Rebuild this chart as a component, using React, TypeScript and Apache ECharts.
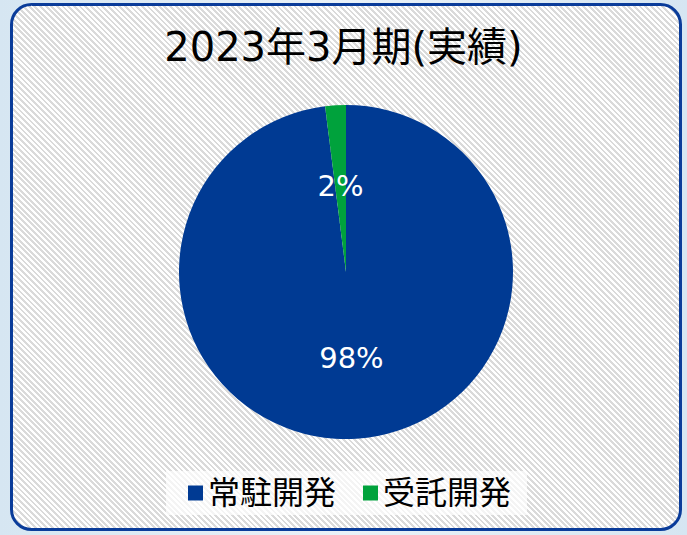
import React, { useEffect, useRef } from "react";
import * as echarts from "echarts";

const categories = ["常駐開発", "受託開発"];
const shares = [98, 2];
const colors = ["#003A93", "#00A23C"];
const titleText = "2023年3月期(実績)";

const FONT = "'DejaVu Sans', 'Noto Sans CJK JP', sans-serif";

export default function App() {
  const ref = useRef<HTMLDivElement>(null);
  useEffect(() => {
    if (!ref.current) return;
    const chart = echarts.init(ref.current, null, { renderer: "svg" });
    chart.setOption({
      animation: false,
      backgroundColor: "transparent",
      title: {
        text: titleText,
        left: "center",
        top: 22,
        textStyle: {
          fontFamily: FONT,
          fontSize: 40,
          fontWeight: "normal",
          color: "#000",
        },
      },
      legend: {
        data: categories,
        bottom: 20,
        left: 166,
        icon: "rect",
        itemWidth: 15,
        itemHeight: 15,
        itemGap: 27,
        padding: [6, 16, 6, 22],
        backgroundColor: "rgba(255,255,255,0.7)",
        textStyle: {
          fontFamily: FONT,
          fontSize: 32,
          color: "#000",
        },
      },
      graphic: [
        {
          type: "rect",
          shape: { x: 11.5, y: 4.5, width: 669, height: 525, r: 20 },
          style: { fill: "none", stroke: "#0A3C9A", lineWidth: 3 },
          silent: true,
        },
      ],
      series: [
        {
          type: "pie",
          center: [346, 272],
          radius: 167,
          startAngle: 90,
          clockwise: true,
          label: {
            show: true,
            position: "inside",
            formatter: "{d}%",
            color: "#fff",
            fontFamily: FONT,
            fontSize: 29,
          },
          labelLine: { show: false },
          emphasis: { disabled: true },
          itemStyle: { borderWidth: 0 },
          data: categories.map((name, i) => ({
            name,
            value: shares[i],
            itemStyle: { color: colors[i] },
          })),
        },
      ],
    });
    return () => chart.dispose();
  }, []);

  return (
    <div
      style={{
        position: "fixed",
        left: 0,
        top: 0,
        width: 687,
        height: 535,
        background: "linear-gradient(90deg, #d6e6f2, #eaf2f8 50%, #d6e6f2)",
        overflow: "hidden",
      }}
    >
      <div
        style={{
          position: "absolute",
          left: 11,
          top: 4,
          width: 670,
          height: 526,
          borderRadius: 20,
          background:
            "repeating-linear-gradient(45deg, #ffffff 0px, #ffffff 2px, #dadada 2px, #dadada 4px)",
        }}
      />
      <div
        ref={ref}
        style={{ position: "absolute", left: 0, top: 0, width: 687, height: 535 }}
      />
    </div>
  );
}
